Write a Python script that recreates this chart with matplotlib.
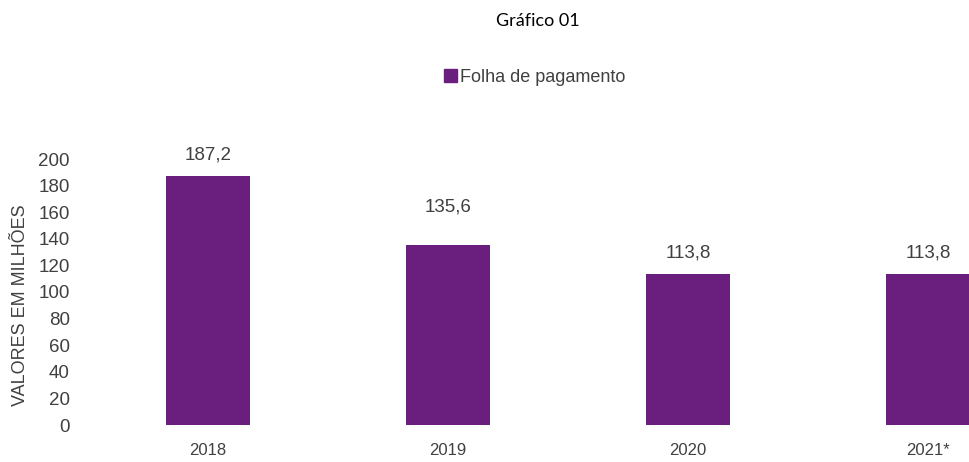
import matplotlib
matplotlib.use("Agg")
import matplotlib.pyplot as plt
from matplotlib.patches import Patch

anos = ["2018", "2019", "2020", "2021*"]
folha = [187.2, 135.6, 113.8, 113.8]
rotulos = ["187,2", "135,6", "113,8", "113,8"]
yticks = list(range(0, 201, 20))

# distance (points) of each value label above its bar, as in the original
desloc = [15, 27, 15, 15]

roxo = "#6a1f7e"
cinza = "#404040"

plt.rcParams["font.family"] = ["Liberation Sans", "DejaVu Sans"]

fig = plt.figure(figsize=(9.69, 4.62), dpi=100)
ax = fig.add_axes([88 / 969, 37 / 462, 881 / 969, 266 / 462])

x = range(len(anos))
ax.bar(x, folha, width=0.35, color=roxo)

for xi, v, lab, d in zip(x, folha, rotulos, desloc):
    ax.annotate(lab, (xi, v), xytext=(0, d), textcoords="offset points",
                ha="center", va="center", fontsize=13.5, color=cinza)

ax.set_xlim(-0.5, 3.17)
ax.set_ylim(0, 200)
ax.set_xticks(list(x))
ax.set_xticklabels(anos, fontsize=12, color=cinza)
ax.set_yticks(yticks)
ax.set_yticklabels([str(t) for t in yticks], fontsize=13.5, color=cinza)
ax.tick_params(length=0)
ax.tick_params(axis="y", pad=13)
ax.tick_params(axis="x", pad=13)
for s in ax.spines.values():
    s.set_visible(False)

ax.set_ylabel("VALORES EM MILHÕES", fontsize=13, color=cinza)
ax.yaxis.set_label_coords(-59 / 881, 0.45)

fig.text(538 / 969, 1 - 21 / 462, "Gráfico 01", ha="center", va="center",
         fontsize=13, family=["Lato", "DejaVu Sans"], color="black")

fig.legend(handles=[Patch(color=roxo, label="Folha de pagamento")],
           loc="center", bbox_to_anchor=(535 / 969, 1 - 77 / 462),
           frameon=False, fontsize=13, labelcolor=cinza,
           handlelength=0.72, handleheight=0.72, handletextpad=0.15)

fig.savefig("out.png", dpi=100)
